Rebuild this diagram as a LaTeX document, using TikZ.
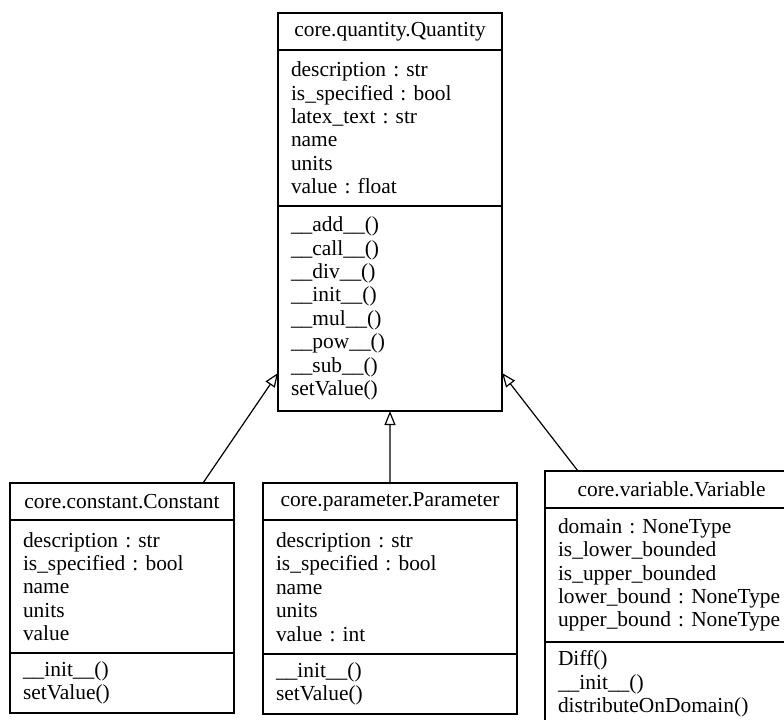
\documentclass[tikz,border=0pt]{standalone}
\usepackage{fontspec}
\setmainfont{Liberation Serif}
\usetikzlibrary{positioning,arrows.meta}
\newcommand{\umlfont}{\frenchspacing\fontsize{21.5}{23.5}\selectfont}

\begin{document}
\begin{tikzpicture}[
  x=1bp, y=-1bp,
  node distance=0pt,
  boxw/.style={text width=#1},
  clsname/.style={draw, line width=1.2bp, anchor=north west, minimum height=37bp,
                  inner xsep=13bp, inner ysep=0pt, outer sep=0pt, font=\umlfont, align=center},
  clsbody/.style={draw, line width=1.2bp, inner xsep=13bp, inner ysep=0pt, outer sep=0pt,
                  font=\umlfont, align=left},
  inherit/.style={-{Triangle[open,length=14bp,width=11bp]}, line width=1.2bp},
]
  \useasboundingbox (0,0) rectangle (784,720);

  % Base class
  \node[clsname, boxw=198bp] (qname) at (278,13) {core.quantity.Quantity};
  \node[clsbody, boxw=198bp, minimum height=156bp, below=of qname] (qattr)
    {description : str\\is\_specified : bool\\latex\_text : str\\name\\units\\value : float};
  \node[clsbody, boxw=198bp, minimum height=205bp, below=of qattr] (qmeth)
    {\_\_add\_\_()\\\_\_call\_\_()\\\_\_div\_\_()\\\_\_init\_\_()\\\_\_mul\_\_()\\\_\_pow\_\_()\\\_\_sub\_\_()\\setValue()};

  % Constant
  \node[clsname, boxw=198bp] (cname) at (10,483) {core.constant.Constant};
  \node[clsbody, boxw=198bp, minimum height=133bp, below=of cname] (cattr)
    {description : str\\is\_specified : bool\\name\\units\\value};
  \node[clsbody, boxw=198bp, minimum height=60bp, below=of cattr] (cmeth)
    {\_\_init\_\_()\\setValue()};

  % Parameter
  \node[clsname, boxw=228bp] (pname) at (263,483) {core.parameter.Parameter};
  \node[clsbody, boxw=228bp, minimum height=134bp, below=of pname] (pattr)
    {description : str\\is\_specified : bool\\name\\units\\value : int};
  \node[clsbody, boxw=228bp, minimum height=60bp, below=of pattr] (pmeth)
    {\_\_init\_\_()\\setValue()};

  % Variable (runs past the right and bottom edges)
  \node[clsname, boxw=227bp] (vname) at (545,471) {core.variable.Variable};
  \node[clsbody, boxw=227bp, minimum height=134bp, below=of vname] (vattr)
    {domain : NoneType\\is\_lower\_bounded\\is\_upper\_bounded\\lower\_bound : NoneType\\upper\_bound : NoneType};
  \node[clsbody, boxw=227bp, minimum height=84bp, below=of vattr] (vmeth)
    {Diff()\\\_\_init\_\_()\\distributeOnDomain()};

  % Inheritance
  \draw[inherit] ([xshift=-31bp]cname.north east) -- ([yshift=38bp]qmeth.south west);
  \draw[inherit] (pname.north) -- (qmeth.south);
  \draw[inherit] ([xshift=33bp]vname.north west) -- ([yshift=38bp]qmeth.south east);
\end{tikzpicture}
\end{document}
